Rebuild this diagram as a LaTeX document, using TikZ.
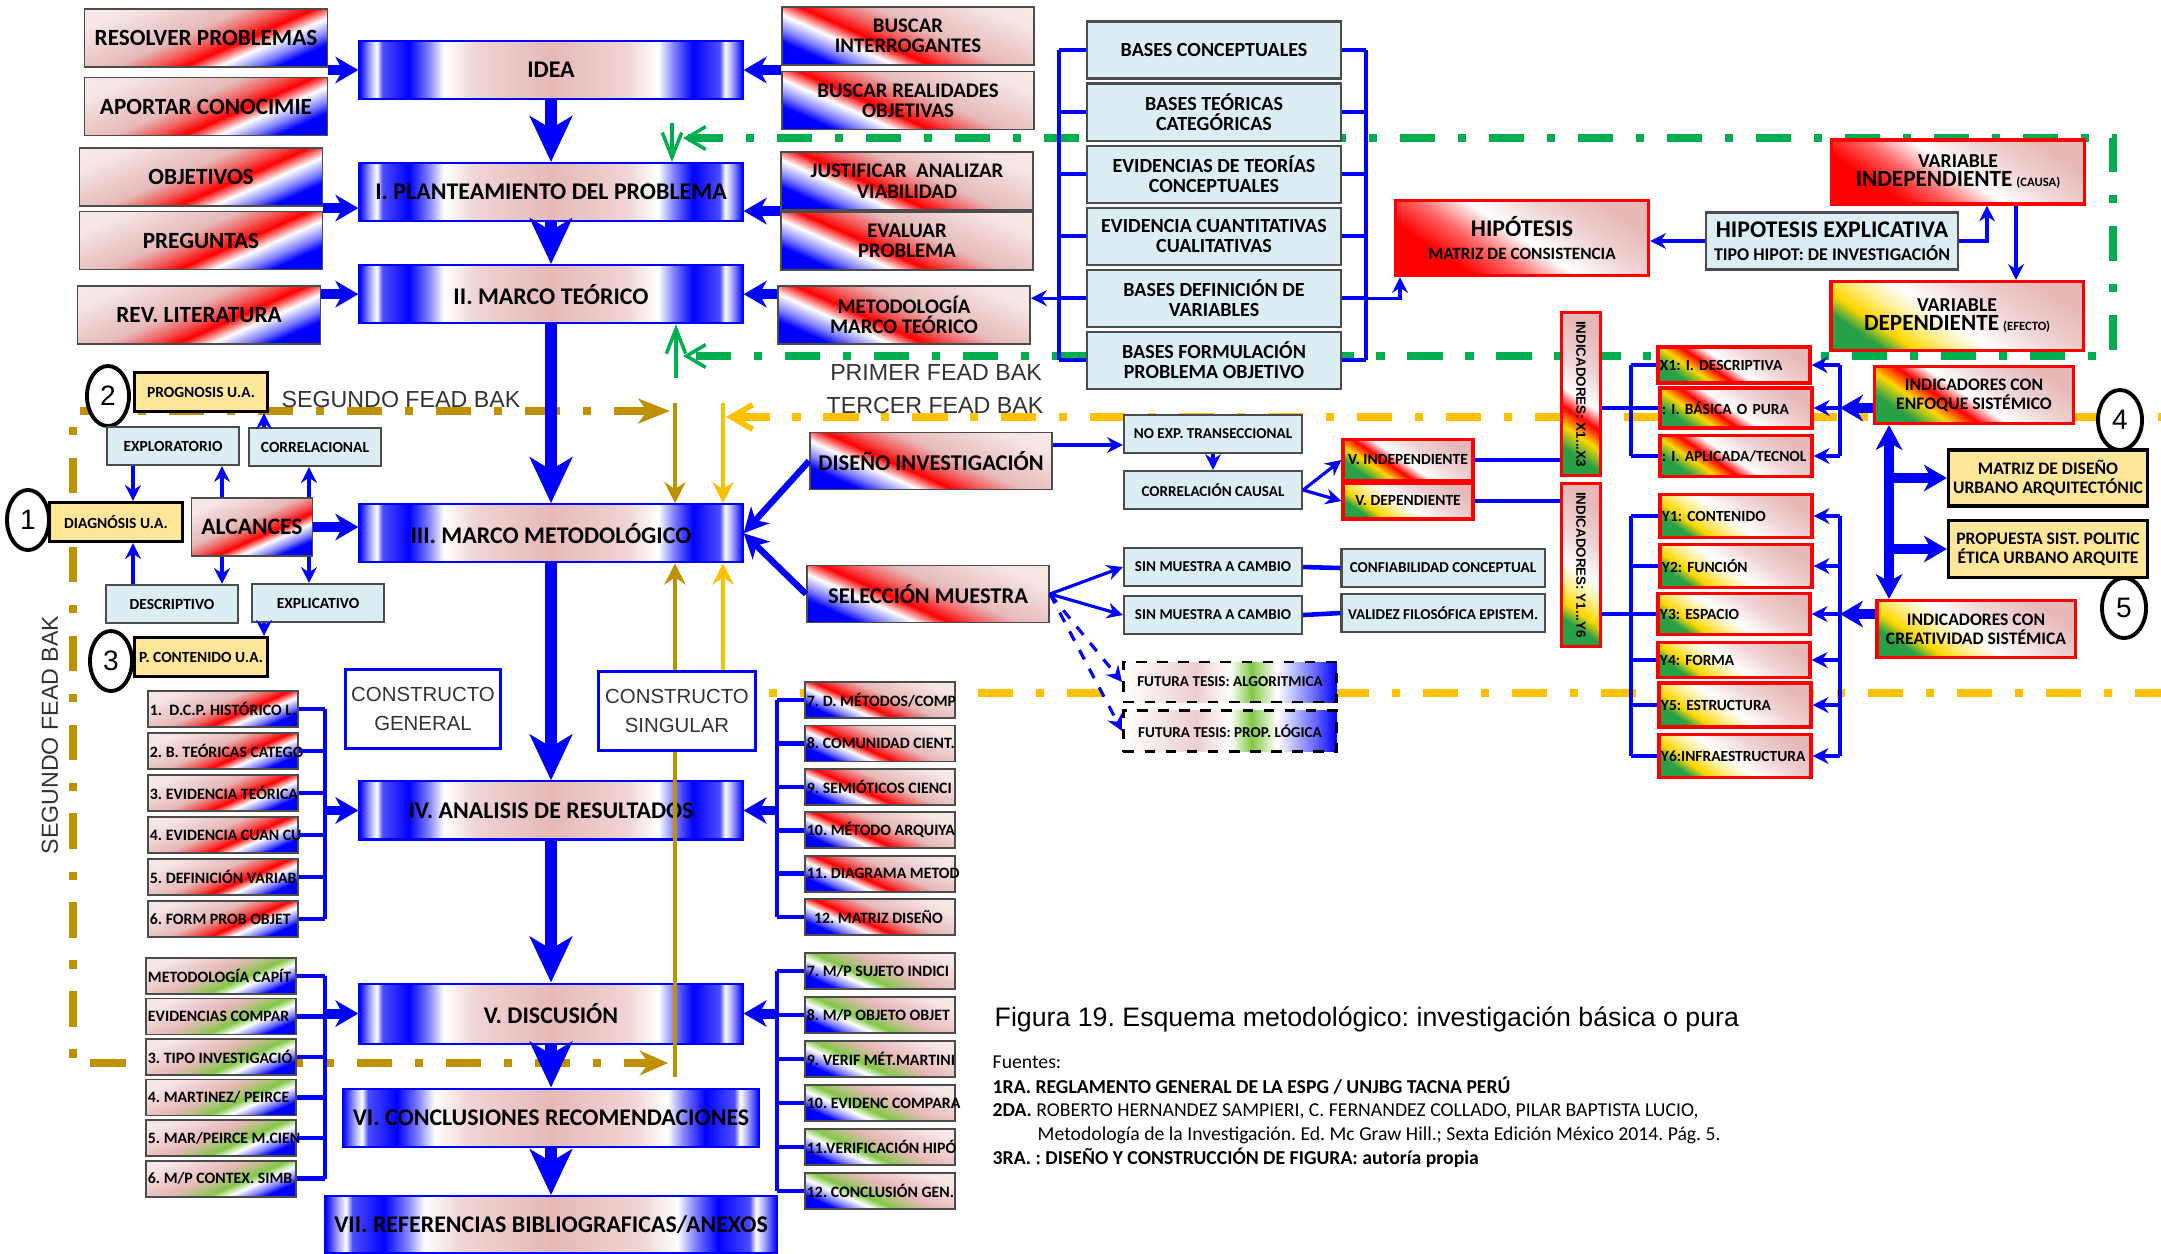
\documentclass[tikz,border=0pt]{standalone}
\usepackage{fontspec}
\setmainfont{Carlito}
\newfontfamily\thinf{Liberation Sans}
\usetikzlibrary{arrows.meta, positioning, shapes.geometric}

\definecolor{pinkbg}{RGB}{230,185,184}
\definecolor{lblue}{RGB}{218,238,243}
\definecolor{uay}{RGB}{255,230,153}
\definecolor{fbgreen}{RGB}{0,176,80}
\definecolor{fbochre}{RGB}{191,144,0}
\definecolor{fbyellow}{RGB}{255,192,0}
\definecolor{lgreen}{RGB}{130,200,70}
\definecolor{dgreen}{RGB}{40,160,70}
\definecolor{ylw}{RGB}{255,215,0}

\pgfdeclarehorizontalshading{mainsh}{100bp}{color(0bp)=(blue); color(25bp)=(blue); color(26.5bp)=(blue!30); color(27.3bp)=(white); color(28bp)=(blue!70); color(31.5bp)=(blue); color(34bp)=(blue!50); color(36bp)=(white); color(40bp)=(pinkbg!60); color(50bp)=(pinkbg); color(60bp)=(pinkbg!60); color(64bp)=(white); color(66bp)=(blue!50); color(68.5bp)=(blue); color(72bp)=(blue!70); color(72.7bp)=(white); color(73.5bp)=(blue!30); color(75bp)=(blue); color(100bp)=(blue)}
\pgfdeclarehorizontalshading{redsh}{100bp}{color(0bp)=(pinkbg!30); color(25bp)=(pinkbg!35); color(45bp)=(pinkbg); color(52bp)=(pinkbg!50!red); color(57.5bp)=(red); color(63.5bp)=(white); color(69.5bp)=(blue!50); color(74bp)=(blue); color(100bp)=(blue)}
\pgfdeclarehorizontalshading{grnsh}{100bp}{color(0bp)=(pinkbg!30); color(25bp)=(pinkbg!35); color(45bp)=(pinkbg); color(52bp)=(pinkbg!50!lgreen); color(57.5bp)=(lgreen); color(63.5bp)=(white); color(69.5bp)=(blue!50); color(74bp)=(blue); color(100bp)=(blue)}
\pgfdeclarehorizontalshading{indsh}{100bp}{color(0bp)=(dgreen); color(26bp)=(dgreen); color(34bp)=(ylw); color(41bp)=(red); color(48bp)=(white); color(60bp)=(pinkbg!60); color(75bp)=(pinkbg); color(100bp)=(pinkbg)}
\pgfdeclarehorizontalshading{ind2sh}{100bp}{color(0bp)=(dgreen); color(26bp)=(dgreen); color(32bp)=(ylw); color(40bp)=(ylw!40); color(47bp)=(white); color(60bp)=(pinkbg!60); color(75bp)=(pinkbg); color(100bp)=(pinkbg)}
\pgfdeclarehorizontalshading{hypsh}{100bp}{color(0bp)=(red); color(30bp)=(red); color(40bp)=(red!60); color(50bp)=(white); color(62bp)=(pinkbg!60); color(75bp)=(pinkbg); color(100bp)=(pinkbg)}
\pgfdeclarehorizontalshading{futsh}{100bp}{color(0bp)=(white); color(25bp)=(white); color(42bp)=(pinkbg!70); color(50bp)=(white); color(55bp)=(lgreen); color(61bp)=(white); color(70bp)=(blue!60); color(75bp)=(blue); color(100bp)=(blue)}

\begin{document}
\frenchspacing
\begin{tikzpicture}[x=0.01cm, y=-0.01cm, on grid,
    mainbox/.style={draw=blue, line width=0.6pt, shading=mainsh, minimum width=3.83cm, minimum height=0.58cm, inner sep=0pt, font=\bfseries\fontsize{6.8}{7}\selectfont},
    redbox/.style={draw=black!70, line width=0.5pt, shading=redsh, shading angle=-66, inner sep=0pt, align=center},
    sidebox/.style={redbox, minimum width=2.43cm, minimum height=0.58cm, font=\bfseries\fontsize{6.6}{7}\selectfont},
    rbox/.style={sidebox, shading angle=-114, minimum width=2.52cm, font=\bfseries\fontsize{5.9}{5.8}\selectfont},
    listbox/.style={draw=black!70, line width=0.5pt, shading=redsh, shading angle=-66, inner ysep=0pt, inner xsep=0.02cm, minimum height=0.36cm, font=\bfseries\fontsize{4.5}{5}\selectfont, execute at begin node={\hbox to 1.46cm\bgroup}, execute at end node={\hss\egroup}},
    glistbox/.style={listbox, shading=grnsh},
    mirr/.style={shading angle=-114},
    indbox/.style={draw=red, line width=0.9pt, shading=indsh, shading angle=56, inner sep=0pt, align=center, font=\bfseries},
    ind2box/.style={indbox, shading=ind2sh},
    hypbox/.style={indbox, shading=hypsh},
    xbox/.style={indbox, text width=1.48cm, inner xsep=0.02cm, align=left, font=\bfseries\fontsize{4.4}{5}\selectfont},
    ybox/.style={xbox, shading=ind2sh},
    cyanbox/.style={draw=black!70, line width=0.6pt, fill=lblue, inner sep=0pt, align=center},
    basebox/.style={cyanbox, minimum width=2.53cm, minimum height=0.57cm, font=\bfseries\fontsize{5.7}{5.6}\selectfont},
    smbox/.style={cyanbox, minimum width=1.78cm, minimum height=0.38cm, font=\bfseries\fontsize{4.3}{5}\selectfont},
    lcy/.style={cyanbox, minimum width=1.32cm, minimum height=0.38cm, font=\bfseries\fontsize{4.4}{5}\selectfont},
    uabox/.style={draw=black, line width=0.9pt, fill=uay, inner sep=0pt, align=center, minimum width=1.33cm, minimum height=0.39cm, font=\bfseries\fontsize{4.4}{5}\selectfont},
    futbox/.style={draw, dashed, line width=0.8pt, shading=futsh, inner sep=0pt, minimum width=2.13cm, minimum height=0.4cm, font=\bfseries\fontsize{4.3}{5}\selectfont},
    constr/.style={draw=blue, line width=0.9pt, fill=white, align=center, inner sep=0pt, minimum height=0.79cm, text=black!80, font=\thinf\fontsize{5.8}{8.2}\selectfont},
    numc/.style={ellipse, draw, line width=1.1pt, fill=white, inner sep=0pt, minimum width=0.42cm, minimum height=0.6cm, font=\thinf\fontsize{8}{8}\selectfont},
    fbtext/.style={inner sep=0pt, text=black!80, font=\thinf\fontsize{6.6}{7}\selectfont},
    spine/.style={-{Stealth[length=13pt,width=12pt,inset=3.5pt]}, blue, line width=3.4pt},
    fat/.style={-{Stealth[length=6.5pt,width=7.5pt,inset=2pt]}, blue, line width=2.8pt},
    med/.style={-{Stealth[length=7pt,width=7pt,inset=2pt]}, blue, line width=1.8pt},
    tarr/.style={-{Stealth[length=4.5pt,width=4.5pt,inset=1.5pt]}, blue, line width=0.9pt},
    lnk/.style={blue, line width=1.3pt},
    fbg/.style={draw=fbgreen, line width=2.2pt, dash pattern=on 10pt off 6.5pt on 2.3pt off 6.5pt},
    fbo/.style={fbg, draw=fbochre},
    fby/.style={fbg, draw=fbyellow},
    gvl/.style={draw=fbgreen, line width=1.1pt, -{Straight Barb[length=7pt,width=5.5pt,line width=1pt]}},
    ovl/.style={draw=fbochre, line width=1.3pt},
    yvl/.style={draw=fbyellow, line width=1.3pt},
    vtip/.style={-{Stealth[length=6pt,width=6pt,inset=2pt]}}]

  \useasboundingbox (0,0) rectangle (2161,1253);
  \fill[white] (0,0) rectangle (2161,1253);

  % feedback loops
  \coordinate (g1) at (683,138);
  \coordinate (g2) at (2113,138);
  \coordinate (g3) at (2113,356);
  \coordinate (g4) at (683,356);
  \draw[fbg, {Straight Barb[length=5.5pt,width=6.5pt,line width=1pt]}-{Straight Barb[length=5.5pt,width=6.5pt,line width=1pt]}] (g1) -- (g2) -- (g3) -- (g4);
  \coordinate (o1) at (670,411);
  \coordinate (o2) at (73,411);
  \coordinate (o3) at (73,1063);
  \coordinate (o4) at (668,1063);
  \draw[fbo, {Stealth[length=9pt,width=7pt,inset=2.5pt]}-{Stealth[length=8pt,width=7pt,inset=2.5pt]}] (o1) -- (o2) -- (o3) -- (o4);
  \coordinate (ya) at (726,417);
  \coordinate (yz) at (2170,417);
  \coordinate (yb) at (2170,693);
  \draw[fby, {Straight Barb[length=6pt,width=7pt,line width=1.6pt]}-] (ya) -- (yz);

  % spine
  \node[mainbox] (idea) at (551,70) {IDEA};
  \node[mainbox] (plan) [below=1.22cm of idea] {I. PLANTEAMIENTO DEL PROBLEMA};
  \node[mainbox] (mteo) [below=1.02cm of plan] {II. MARCO TEÓRICO};
  \node[mainbox] (mmet) [below=2.39cm of mteo] {III. MARCO METODOLÓGICO};
  \node[mainbox] (anal) [below=2.77cm of mmet] {IV. ANALISIS DE RESULTADOS};
  \node[mainbox, minimum height=0.6cm] (disc) [below=2.03cm of anal] {V. DISCUSIÓN};
  \node[mainbox, minimum width=4.16cm] (concl) [below=1.04cm of disc] {VI. CONCLUSIONES RECOMENDACIONES};
  \node[mainbox, minimum width=4.51cm, minimum height=0.57cm] (refs) [below=1.07cm of concl] {VII. REFERENCIAS BIBLIOGRAFICAS/ANEXOS};

  \node[sidebox] (res) at (206,38) {RESOLVER PROBLEMAS};
  \node[sidebox] (apo) [below=0.685cm of res] {APORTAR CONOCIMIE};
  \node[sidebox] (obj) at (201,177) {OBJETIVOS};
  \node[sidebox] (pre) [below=0.635cm of obj] {PREGUNTAS};
  \node[sidebox] (rev) at (199,315) {REV. LITERATURA};
  \node[rbox] (bint) at (908,36) {BUSCAR\\INTERROGANTES};
  \node[rbox] (breal) [below=0.645cm of bint] {BUSCAR REALIDADES\\OBJETIVAS};
  \node[rbox] (just) at (907,181) {JUSTIFICAR\ \ ANALIZAR\\VIABILIDAD};
  \node[rbox] (eval) [below=0.6cm of just] {EVALUAR\\PROBLEMA};
  \node[rbox] (mmt) at (904,315) {METODOLOGÍA\\MARCO TEÓRICO};

  \node[basebox] (bc) at (1214,50) {BASES CONCEPTUALES};
  \node[basebox] (bt) [below=0.62cm of bc] {BASES TEÓRICAS\\CATEGÓRICAS};
  \node[basebox] (be) [below=0.62cm of bt] {EVIDENCIAS DE TEORÍAS\\CONCEPTUALES};
  \node[basebox] (bq) [below=0.62cm of be] {EVIDENCIA CUANTITATIVAS\\CUALITATIVAS};
  \node[basebox] (bdv) [below=0.62cm of bq] {BASES DEFINICIÓN DE\\VARIABLES};
  \node[basebox] (bf) [below=0.62cm of bdv] {BASES FORMULACIÓN\\PROBLEMA OBJETIVO};

  \node[hypbox, minimum width=2.53cm, minimum height=0.75cm, font=\bfseries\fontsize{5}{6.5}\selectfont] (hip) at (1522,238) {{\fontsize{6.8}{7}\selectfont HIPÓTESIS}\\{\fontsize{4.9}{5}\selectfont MATRIZ DE CONSISTENCIA}};
  \node[cyanbox, minimum width=2.52cm, minimum height=0.57cm, font=\bfseries\fontsize{5}{6.6}\selectfont] (hex) at (1832,241) {{\fontsize{6.8}{7}\selectfont HIPOTESIS EXPLICATIVA}\\{\fontsize{5.1}{5.5}\selectfont TIPO HIPOT: DE INVESTIGACIÓN}};
  \node[hypbox, minimum width=2.53cm, minimum height=0.64cm, font=\bfseries\fontsize{5}{5.4}\selectfont] (vi) at (1958,172) {{\fontsize{5.6}{5}\selectfont VARIABLE}\\{\fontsize{6.6}{6}\selectfont INDEPENDIENTE} {\fontsize{3.6}{4}\selectfont (CAUSA)}};
  \node[ind2box, minimum width=2.52cm, minimum height=0.69cm, font=\bfseries\fontsize{5}{5.4}\selectfont] (vd) at (1957,316) {{\fontsize{5.6}{5}\selectfont VARIABLE}\\{\fontsize{6.6}{6}\selectfont DEPENDIENTE} {\fontsize{3.6}{4}\selectfont (EFECTO)}};

  % alcances
  \node[numc] (c1) at (28,520) {1};
  \node[uabox] (diag) at (116,522) {DIAGNÓSIS U.A.};
  \node[sidebox, minimum width=1.21cm, font=\bfseries\fontsize{6.7}{7}\selectfont] (alc) at (252,527) {ALCANCES};
  \node[numc] (c2) at (108,396) {2};
  \node[uabox] (prog) at (201,392) {PROGNOSIS U.A.};
  \node[lcy] (expl) at (173,446) {EXPLORATORIO};
  \node[lcy] (corr) at (315,447) {CORRELACIONAL};
  \node[lcy] (desc) at (172,604) {DESCRIPTIVO};
  \node[lcy] (explic) at (318,603) {EXPLICATIVO};
  \node[numc] (c3) at (111,661) {3};
  \node[uabox] (pcont) at (201,657) {P. CONTENIDO U.A.};

  \node[constr, minimum width=1.55cm] (cg) at (423,709) {CONSTRUCTO\\GENERAL};
  \node[constr, minimum width=1.57cm] (cs) at (677,711) {CONSTRUCTO\\SINGULAR};
  \draw[fby] (yb) -- (yb -| cs.east);

  % lists
  \node[listbox] (ia1) at (223,709) {1.\ \ D.C.P. HISTÓRICO L.};
  \node[listbox] (ia2) [below=0.42cm of ia1] {2. B. TEÓRICAS CATEGO};
  \node[listbox] (ia3) [below=0.42cm of ia2] {3. EVIDENCIA TEÓRICA};
  \node[listbox] (ia4) [below=0.42cm of ia3] {4. EVIDENCIA CUAN CU};
  \node[listbox] (ia5) [below=0.42cm of ia4] {5. DEFINICIÓN VARIAB};
  \node[listbox] (ia6) [below=0.42cm of ia5] {6. FORM PROB OBJET};
  \node[listbox, mirr] (ib7) at (880,700) {7. D. MÉTODOS/COMP};
  \node[listbox, mirr] (ib8) [below=0.434cm of ib7] {8. COMUNIDAD CIENT.};
  \node[listbox, mirr] (ib9) [below=0.434cm of ib8] {9. SEMIÓTICOS CIENCI};
  \node[listbox, mirr] (ib10) [below=0.434cm of ib9] {10. MÉTODO ARQUIYA};
  \node[listbox, mirr] (ib11) [below=0.434cm of ib10] {11. DIAGRAMA METOD};
  \node[listbox, mirr] (ib12) [below=0.434cm of ib11] {\ \ 12. MATRIZ DISEÑO};
  \node[glistbox] (va1) at (221,976) {METODOLOGÍA CAPÍT};
  \node[glistbox] (va2) [below=0.405cm of va1] {EVIDENCIAS COMPAR};
  \node[glistbox] (va3) [below=0.405cm of va2] {3. TIPO INVESTIGACIÓ};
  \node[glistbox] (va4) [below=0.405cm of va3] {4. MARTINEZ/ PEIRCE};
  \node[glistbox] (va5) [below=0.405cm of va4] {5. MAR/PEIRCE M.CIEN};
  \node[glistbox] (va6) [below=0.405cm of va5] {6. M/P CONTEX. SIMB};
  \node[glistbox, mirr] (vb7) at (880,971) {7. M/P SUJETO INDICI};
  \node[glistbox, mirr] (vb8) [below=0.44cm of vb7] {8. M/P OBJETO OBJET};
  \node[glistbox, mirr] (vb9) [below=0.44cm of vb8] {9. VERIF MÉT.MARTINI};
  \node[glistbox, mirr] (vb10) [below=0.44cm of vb9] {10. EVIDENC COMPARA};
  \node[glistbox, mirr] (vb11) [below=0.44cm of vb10] {11.VERIFICACIÓN HIPÓ};
  \node[glistbox, mirr] (vb12) [below=0.44cm of vb11] {12. CONCLUSIÓN GEN.};

  % metodologico
  \node[sidebox, mirr, minimum width=2.42cm, minimum height=0.57cm, font=\bfseries\fontsize{6.4}{7}\selectfont] (dsn) at (931,461) {DISEÑO INVESTIGACIÓN};
  \node[sidebox, mirr, minimum width=2.42cm, minimum height=0.57cm, font=\bfseries\fontsize{6.4}{7}\selectfont] (sel) at (928,594) {SELECCIÓN MUESTRA};
  \node[smbox] (nox) at (1213,434) {NO EXP. TRANSECCIONAL};
  \node[smbox] (cc) at (1213,490) {CORRELACIÓN CAUSAL};
  \node[smbox] (sm1) at (1213,567) {SIN MUESTRA A CAMBIO};
  \node[smbox] (sm2) at (1213,615) {SIN MUESTRA A CAMBIO};
  \node[smbox, minimum width=2.03cm] (conf) at (1443,568) {CONFIABILIDAD CONCEPTUAL};
  \node[smbox, minimum width=2.03cm] (val) at (1443,613) {VALIDEZ FILOSÓFICA EPISTEM.};
  \node[futbox] (fut1) at (1230,682) {FUTURA TESIS: ALGORITMICA};
  \node[futbox, minimum height=0.41cm] (fut2) at (1230,731) {FUTURA TESIS: PROP. LÓGICA};
  \node[indbox, minimum width=1.3cm, minimum height=0.41cm, font=\bfseries\fontsize{4.4}{5}\selectfont] (vin) at (1408,460) {V. INDEPENDIENTE};
  \node[ind2box, minimum width=1.3cm, minimum height=0.36cm, font=\bfseries\fontsize{4.4}{5}\selectfont] (vde) at (1408,501) {V. DEPENDIENTE};
  \node[indbox, rotate=-90, minimum width=1.63cm, minimum height=0.39cm, font=\thinf\bfseries\fontsize{3.8}{4}\selectfont] (ix) at (1581,394) {INDICADORES: X1...X3};
  \node[ind2box, rotate=-90, minimum width=1.63cm, minimum height=0.39cm, font=\thinf\bfseries\fontsize{3.8}{4}\selectfont] (iy) at (1581,565) {INDICADORES: Y1...Y6};

  \node[xbox, minimum height=0.36cm] (x1) at (1734,365) {X1: I. DESCRIPTIVA};
  \node[xbox, minimum height=0.4cm] (x2) at (1736,408) {: I. BÁSICA O PURA};
  \node[xbox, minimum height=0.41cm] (x3) at (1736,456) {: I. APLICADA/TECNOL};
  \node[ybox, minimum height=0.43cm] (y1) at (1736,516) {Y1: CONTENIDO};
  \node[ybox, minimum height=0.43cm] (y2) at (1736,566) {Y2: FUNCIÓN};
  \node[ybox, minimum height=0.41cm] (y3) at (1734,614) {Y3: ESPACIO};
  \node[ybox, minimum height=0.35cm] (y4) at (1734,660) {Y4: FORMA};
  \node[ybox, minimum height=0.44cm] (y5) at (1735,705) {Y5: ESTRUCTURA};
  \node[ybox, minimum height=0.43cm] (y6) at (1735,756) {Y6:INFRAESTRUCTURA};

  \node[indbox, minimum width=1.99cm, minimum height=0.57cm, font=\bfseries\fontsize{5}{5.4}\selectfont] (enf) at (1974,395) {INDICADORES CON\\ENFOQUE SISTÉMICO};
  \node[ind2box, minimum width=1.98cm, minimum height=0.57cm, font=\bfseries\fontsize{5}{5.4}\selectfont] (cre) at (1976,629) {INDICADORES CON\\CREATIVIDAD SISTÉMICA};
  \node[uabox, minimum width=1.99cm, minimum height=0.56cm, font=\bfseries\fontsize{5}{5.4}\selectfont] (mdu) at (2048,478) {MATRIZ DE DISEÑO\\URBANO ARQUITECTÓNIC};
  \node[uabox, minimum width=1.99cm, minimum height=0.57cm, font=\bfseries\fontsize{5}{5.4}\selectfont] (psp) at (2048,549) {PROPUESTA SIST. POLITIC\\ÉTICA URBANO ARQUITE};
  \node[numc, minimum width=0.44cm] (c4) at (2120,420) {4};
  \node[numc, minimum width=0.44cm] (c5) at (2124,608) {5};

  % labels
  \node[fbtext] (prim) at (936,372) {PRIMER FEAD BAK};
  \node[fbtext] (terc) at (935,405) {TERCER FEAD BAK};
  \node[fbtext] (seg) at (401,399) {SEGUNDO FEAD BAK};
  \node[fbtext, rotate=90] (segv) at (50,735) {SEGUNDO FEAD BAK};
  \node[anchor=west, inner sep=0pt, font=\thinf\fontsize{7.6}{8}\selectfont] (cap) at (994,1019) {Figura 19. Esquema metodológico: investigación básica o pura};
  \node[anchor=west, inner sep=0pt, font=\fontsize{5.6}{6}\selectfont] (fu0) at (992,1062) {Fuentes:};
  \node[anchor=west, inner sep=0pt, font=\bfseries\fontsize{5.6}{6}\selectfont] (fu1) at (992,1086) {1RA. REGLAMENTO GENERAL DE LA ESPG / UNJBG TACNA PERÚ};
  \node[anchor=west, inner sep=0pt, font=\fontsize{5.6}{6}\selectfont] (fu2) at (992,1111) {\textbf{2DA.} ROBERTO HERNANDEZ SAMPIERI, C. FERNANDEZ COLLADO, PILAR BAPTISTA LUCIO,};
  \node[anchor=west, inner sep=0pt, font=\fontsize{5.6}{6}\selectfont] (fu3) at (1037,1135) {Metodología de la Investigación. Ed. Mc Graw Hill.; Sexta Edición México 2014. Pág. 5.};
  \node[anchor=west, inner sep=0pt, font=\bfseries\fontsize{5.6}{6}\selectfont] (fu4) at (992,1158) {3RA. : DISEÑO Y CONSTRUCCIÓN DE FIGURA: autoría propia};

  % spine arrows
  \draw[spine] (idea.south) -- (plan.north);
  \draw[spine] (plan.south) -- (mteo.north);
  \draw[spine] (mteo.south) -- (mmet.north);
  \draw[spine] (mmet.south) -- (anal.north);
  \draw[spine] (anal.south) -- (disc.north);
  \draw[spine] (disc.south) -- (concl.north);
  \draw[spine] (concl.south) -- (refs.north);

  \coordinate (pin) at ([yshift=-0.16cm]plan.west);
  \coordinate (pout) at ([yshift=-0.19cm]plan.east);
  \draw[fat] (idea.west -| res.east) -- (idea.west);
  \draw[fat] (pin -| obj.east) -- (pin);
  \draw[fat] (mteo.west -| rev.east) -- (mteo.west);
  \draw[fat] (idea.east -| bint.west) -- (idea.east);
  \draw[fat] (pout -| just.west) -- (pout);
  \draw[fat] (mteo.east -| mmt.west) -- (mteo.east);

  % feedback verticals
  \coordinate (gt) at (672,123);
  \coordinate (gb) at (676,378);
  \draw[gvl] (gt) -- (gt |- plan.north);
  \draw[gvl] (gb) -- (gb |- mteo.south);
  \coordinate (xo) at (675,0);
  \coordinate (xy) at (723,0);
  \coordinate (ot) at (675,403);
  \coordinate (yt) at (723,403);
  \coordinate (ob) at (675,1077);
  \draw[ovl, vtip] (ot) -- (ot |- mmet.north);
  \draw[yvl, vtip] (yt) -- (yt |- mmet.north);
  \draw[ovl, vtip] (cs.north -| xo) -- (mmet.south -| xo);
  \draw[yvl, vtip] (cs.north -| xy) -- (mmet.south -| xy);
  \draw[ovl] (cs.south -| xo) -- (ob);

  % alcances arrows
  \coordinate (xa) at (133,0);
  \coordinate (xb) at (222,0);
  \coordinate (xc) at (309,0);
  \coordinate (xd) at (264,0);
  \draw[tarr] (expl.south -| xa) -- (diag.north -| xa);
  \draw[tarr] (alc.north -| xb) -- (expl.south -| xb);
  \draw[tarr] (alc.north -| xc) -- (corr.south -| xc);
  \draw[tarr] (corr.north -| xd) -- (prog.south -| xd);
  \draw[tarr] (alc.south -| xb) -- (desc.north -| xb);
  \draw[tarr] (alc.south -| xc) -- (explic.north -| xc);
  \draw[tarr] (desc.north -| xa) -- (diag.south -| xa);
  \draw[tarr] (explic.south -| xd) -- (pcont.north -| xd);
  \draw[fat] (alc.east) -- (alc.east -| mmet.west);

  % list brackets
  \coordinate (xl) at (325,0);
  \coordinate (xr) at (777,0);
  \foreach \i in {1,...,6} {
    \draw[lnk] (ia\i.east) -- (ia\i.east -| xl);
    \draw[lnk] (va\i.east) -- (va\i.east -| xl);
  }
  \foreach \i in {7,...,12} {
    \draw[lnk] (ib\i.west) -- (ib\i.west -| xr);
    \draw[lnk] (vb\i.west) -- (vb\i.west -| xr);
  }
  \draw[lnk] (ia1.east -| xl) -- (ia6.east -| xl);
  \draw[lnk] (va1.east -| xl) -- (va6.east -| xl);
  \draw[lnk] (ib7.west -| xr) -- (ib12.west -| xr);
  \draw[lnk] (vb7.west -| xr) -- (vb12.west -| xr);
  \draw[fat] (anal.west -| xl) -- (anal.west);
  \draw[fat] (disc.west -| xl) -- (disc.west);
  \draw[fat] (anal.east -| xr) -- (anal.east);
  \draw[fat] (disc.east -| xr) -- (disc.east);

  % bases brackets
  \coordinate (xbl) at (1059,0);
  \coordinate (xbr) at (1366,0);
  \coordinate (xh) at (1400,0);
  \foreach \b in {bc,bt,be,bq,bdv,bf} {
    \draw[lnk] (\b.west) -- (\b.west -| xbl);
    \draw[lnk] (\b.east) -- (\b.east -| xbr);
  }
  \draw[lnk] (bc.west -| xbl) -- (bf.west -| xbl);
  \draw[lnk] (bc.east -| xbr) -- (bf.east -| xbr);
  \draw[tarr] (bdv.west -| xbl) -- (bdv.west -| mmt.east);
  \draw[tarr] (bdv.east -| xbr) -| (hip.south -| xh);

  % hipotesis
  \coordinate (xf) at (1987,0);
  \coordinate (xg) at (2016,0);
  \draw[tarr] (hex.west) -- (hex.west -| hip.east);
  \draw[tarr] (hex.east) -| (vi.south -| xf);
  \draw[tarr] (vi.south -| xg) -- (vd.north -| xg);

  % diseno / muestra
  \coordinate (yn) at (0,445);
  \draw[med] (dsn.west) -- (mmet.east);
  \draw[med] (sel.west) -- (mmet.east);
  \draw[tarr] (dsn.east |- yn) -- (nox.west |- yn);
  \draw[tarr] (nox.south) -- (cc.north);
  \draw[tarr] (cc.east) -- (vin.west);
  \draw[tarr] (cc.east) -- (vde.west);
  \draw[lnk] (vin.east) -- (vin.east -| ix.south);
  \draw[lnk] (vde.east) -- (vde.east -| iy.south);
  \draw[tarr] (sel.east) -- (sm1.west);
  \draw[tarr] (sel.east) -- (sm2.west);
  \draw[lnk] (sm1.east) -- (conf.west);
  \draw[lnk] (sm2.east) -- (val.west);
  \draw[tarr, dashed] (sel.east) -- (fut1.west);
  \draw[tarr, dashed] (sel.east) -- (fut2.west);

  % indicadores
  \coordinate (xk) at (1631,0);
  \coordinate (xs) at (1840,0);
  \coordinate (xv) at (1889,0);
  \foreach \b in {x1,x2,x3,y1,y2,y3,y4,y5,y6} {
    \draw[lnk] (\b.west -| xk) -- (\b.west);
    \draw[tarr] (\b.east -| xs) -- (\b.east);
  }
  \draw[lnk] (x1.west -| xk) -- (x3.west -| xk);
  \draw[lnk] (y1.west -| xk) -- (y6.west -| xk);
  \draw[lnk] (x1.east -| xs) -- (x3.east -| xs);
  \draw[lnk] (y1.east -| xs) -- (y6.east -| xs);
  \draw[lnk] (x2.west -| ix.north) -- (x2.west -| xk);
  \draw[lnk] (y3.west -| iy.north) -- (y3.west -| xk);
  \draw[fat] (x2.east -| enf.west) -- (x2.east -| xs);
  \draw[fat] (y3.east -| cre.west) -- (y3.east -| xs);
  \draw[fat, {Stealth[length=7pt,width=7.5pt,inset=2pt]}-{Stealth[length=7pt,width=7.5pt,inset=2pt]}] (enf.south -| xv) -- (cre.north -| xv);
  \draw[fat] (mdu.west -| xv) -- (mdu.west);
  \draw[fat] (psp.west -| xv) -- (psp.west);
\end{tikzpicture}
\end{document}
